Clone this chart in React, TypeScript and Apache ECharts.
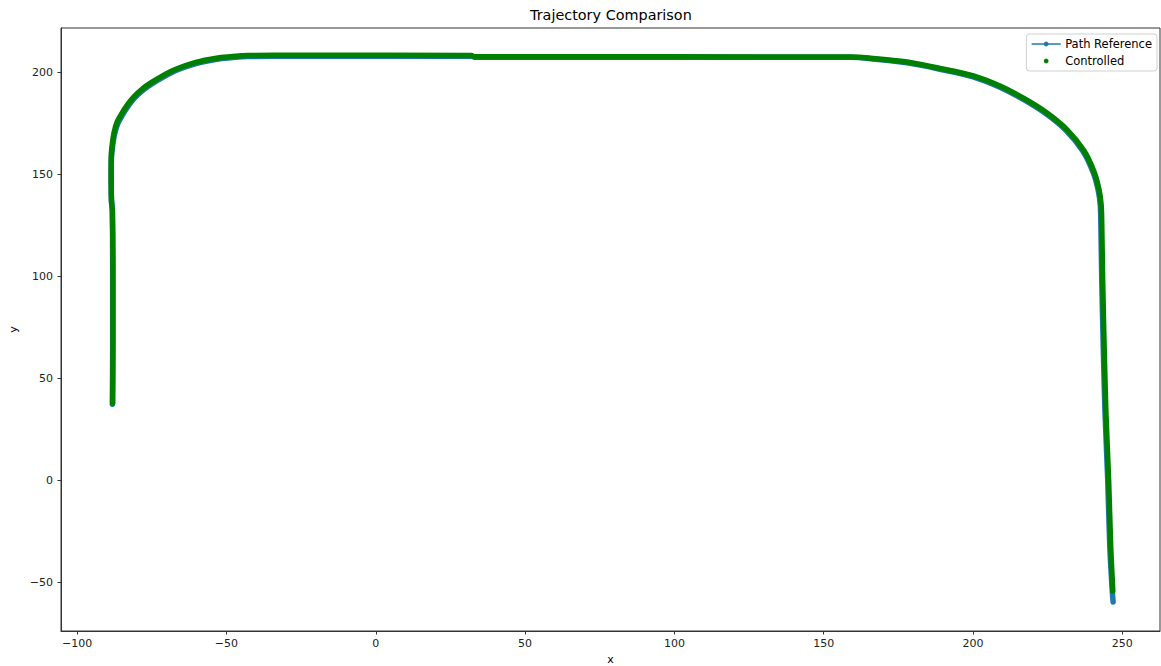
import React, { useEffect, useRef } from 'react';
import * as echarts from 'echarts';

const xTicks = [-100, -50, 0, 50, 100, 150, 200, 250];
const yTicks = [-50, 0, 50, 100, 150, 200];
const seriesNames = ['Path Reference', 'Controlled'];

const refPath: [number, number][] = [
  [-88.2, 37.2], [-88.1, 65], [-88.1, 100], [-88.2, 132], [-88.5, 137], [-88.6, 150],
  [-88.5, 158], [-88.0, 165], [-87.4, 170], [-86.3, 175], [-85.0, 178.5], [-82.8, 183.5],
  [-80.6, 187.6], [-77.8, 191.3], [-75.0, 194.2], [-71.5, 197.3], [-68.3, 199.8],
  [-64.5, 202.1], [-60.5, 204.0], [-56.0, 205.5], [-51.6, 206.6], [-47.0, 207.3],
  [-42.8, 207.6], [-25, 207.8], [32, 207.8], [33, 207.3], [158.8, 207.2], [166.5, 206.4],
  [177.9, 204.5], [188.9, 201.4], [200.0, 197.7], [209.0, 192.6], [216.7, 186.7],
  [224.1, 179.9], [231.1, 171.5], [236.8, 161.2], [240.2, 150.9], [241.9, 142.1],
  [242.6, 134.7], [242.8, 125], [243.1, 98], [243.6, 65], [244.2, 32.7], [245.1, 0],
  [245.8, -33], [246.6, -54], [246.9, -59.8],
];

const ctrlPath: [number, number][] = [
  [-88.1, 37.8], [-88.0, 65], [-88.0, 100], [-88.2, 132], [-88.5, 137], [-88.6, 150],
  [-88.6, 158], [-88.2, 165], [-87.6, 170.5], [-86.6, 175.5], [-85.3, 179], [-83.1, 184],
  [-80.9, 188], [-78.1, 191.8], [-75.3, 194.7], [-71.8, 197.8], [-68.6, 200.3],
  [-64.8, 202.6], [-60.8, 204.5], [-56.2, 206.0], [-51.8, 207.1], [-47.0, 207.8],
  [-42.8, 208.1], [-25, 208.2], [32, 208.1], [33, 207.5], [158.8, 207.4], [166.5, 206.7],
  [177.9, 204.9], [188.9, 201.8], [200.1, 198.1], [209.2, 193.0], [217.0, 187.1],
  [224.4, 180.3], [231.4, 171.8], [237.1, 161.5], [240.5, 151.1], [242.2, 142.2],
  [242.9, 134.7], [243.1, 125], [243.4, 98], [243.9, 65], [244.5, 32.7], [245.4, 0],
  [246.1, -33], [246.8, -54.3],
];

const BLUE = '#1f77b4';
const GREEN = '#008000';
const FONT = 'DejaVu Sans';

export default function App() {
  const ref = useRef<HTMLDivElement>(null);
  useEffect(() => {
    document.body.style.margin = '0';
    const chart = echarts.init(ref.current!, null, { renderer: 'svg' });
    const fmt = (v: number) => String(v).replace('-', '\u2212');
    chart.setOption({
      animation: false,
      backgroundColor: '#ffffff',
      textStyle: { fontFamily: FONT },
      title: {
        text: 'Trajectory Comparison',
        left: 530,
        top: 8,
        padding: 0,
        textStyle: { fontFamily: FONT, fontSize: 14.4, fontWeight: 'normal', color: '#000' },
      },
      legend: {
        orient: 'vertical',
        right: 4,
        top: 34,
        padding: [3, 5, 3, 5],
        itemGap: 3,
        itemWidth: 28,
        itemHeight: 6,
        borderColor: '#d0d0d0',
        borderWidth: 1,
        borderRadius: 3,
        backgroundColor: 'rgba(255,255,255,0.8)',
        textStyle: { fontFamily: FONT, fontSize: 11.5, color: '#000', lineHeight: 14 },
        data: [
          { name: seriesNames[0], lineStyle: { width: 1.5, color: BLUE }, itemStyle: { color: BLUE } },
          { name: seriesNames[1], lineStyle: { width: 0, opacity: 0 }, itemStyle: { color: GREEN } },
        ],
      },
      grid: {
        left: 61, right: 1, top: 28, bottom: 35,
        containLabel: false,
        outerBoundsMode: 'none',
        show: true, borderColor: '#333', borderWidth: 1, backgroundColor: 'transparent',
      },
      xAxis: {
        type: 'value',
        min: -105.4,
        max: 262.6,
        splitLine: { show: false },
        axisLine: { show: true, onZero: false, lineStyle: { color: '#333', width: 1 } },
        axisTick: { show: true, inside: false, length: 3.5, customValues: xTicks, lineStyle: { color: '#333' } },
        axisLabel: { customValues: xTicks, formatter: fmt, color: '#222', fontSize: 11, margin: 7, fontFamily: FONT },
        name: 'x',
        nameLocation: 'middle',
        nameGap: 23,
        nameTextStyle: { fontFamily: FONT, fontSize: 11, color: '#000' },
      },
      yAxis: {
        type: 'value',
        min: -74.0,
        max: 221.6,
        splitLine: { show: false },
        axisLine: { show: true, onZero: false, lineStyle: { color: '#333', width: 1 } },
        axisTick: { show: true, inside: false, length: 3.5, customValues: yTicks, lineStyle: { color: '#333' } },
        axisLabel: { customValues: yTicks, formatter: fmt, color: '#222', fontSize: 11, margin: 8, fontFamily: FONT },
        name: 'y',
        nameLocation: 'middle',
        nameGap: 40,
        nameTextStyle: { fontFamily: FONT, fontSize: 11, color: '#000' },
      },
      series: [
        {
          name: seriesNames[0],
          type: 'line',
          data: refPath,
          showSymbol: false,
          symbol: 'circle',
          smooth: 0.3,
          lineStyle: { width: 5.5, color: BLUE, cap: 'round', join: 'round' },
          itemStyle: { color: BLUE },
          z: 2,
        },
        {
          name: seriesNames[1],
          type: 'line',
          data: ctrlPath,
          showSymbol: false,
          symbol: 'circle',
          smooth: 0.3,
          lineStyle: { width: 5.5, color: GREEN, cap: 'round', join: 'round' },
          itemStyle: { color: GREEN },
          z: 3,
        },
      ],
    });
    return () => chart.dispose();
  }, []);
  return <div ref={ref} style={{ width: 1161, height: 666 }} />;
}
